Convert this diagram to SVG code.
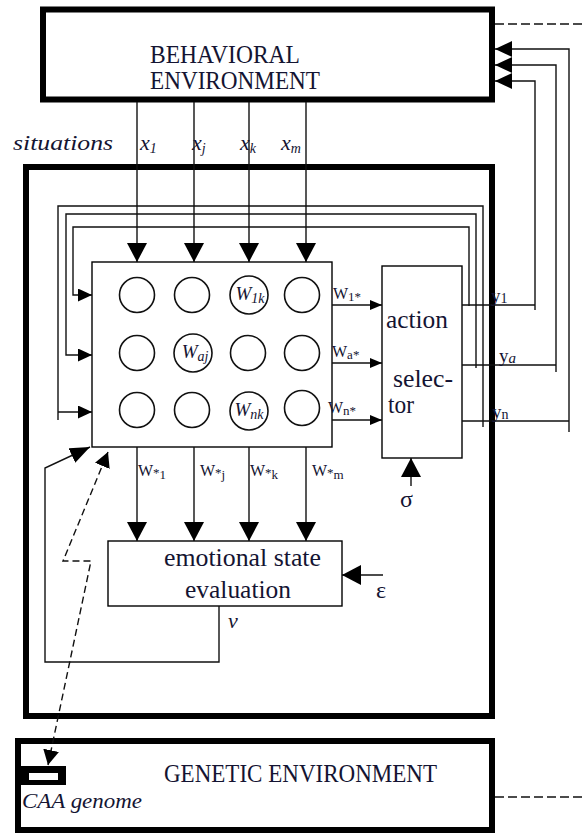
<svg xmlns="http://www.w3.org/2000/svg" width="586" height="837" viewBox="0 0 586 837">
<style>
.box{fill:#fff;stroke:#000;stroke-width:6}
.blk{fill:none;stroke:#000;stroke-width:1.4}
.ln{fill:none;stroke:#111;stroke-width:1.4}
.dash{fill:none;stroke:#111;stroke-width:1.4;stroke-dasharray:9 4}
.dsh2{fill:none;stroke:#111;stroke-width:1.4;stroke-dasharray:7 4}
.cell{fill:#fff;stroke:#111;stroke-width:1.6}
text{font-family:"Liberation Serif","Times New Roman",serif;fill:#141432}
.big{font-size:25px}
.it{font-style:italic}
.lab{font-size:16px}
.sub{font-size:13px}
</style>
<defs>
<marker id="aBig" markerUnits="userSpaceOnUse" markerWidth="19" markerHeight="20" refX="19" refY="10" orient="auto"><path d="M0,0 L19,10 L0,20 z" fill="#000"/></marker>
<marker id="aTop" markerUnits="userSpaceOnUse" markerWidth="17" markerHeight="16" refX="17" refY="8" orient="auto"><path d="M0,0 L17,8 L0,16 z" fill="#000"/></marker>
<marker id="aSm" markerUnits="userSpaceOnUse" markerWidth="14" markerHeight="13" refX="14" refY="6.5" orient="auto"><path d="M0,0 L14,6.5 L0,13 z" fill="#000"/></marker>
<marker id="aXs" markerUnits="userSpaceOnUse" markerWidth="12" markerHeight="10" refX="12" refY="5" orient="auto"><path d="M0,0 L12,5 L0,10 z" fill="#000"/></marker>
<marker id="aNu" markerUnits="userSpaceOnUse" markerWidth="20" markerHeight="16" refX="20" refY="8" orient="auto"><path d="M0,0 L20,8 L0,16 z" fill="#000"/></marker>
<marker id="aDs" markerUnits="userSpaceOnUse" markerWidth="15" markerHeight="16" refX="15" refY="8" orient="auto-start-reverse"><path d="M0,0 L15,8 L0,16 z" fill="#000"/></marker>
</defs>
<rect width="586" height="837" fill="#fff"/>

<g id="agent-box"><rect class="box" x="26" y="167" width="466" height="549"/></g>

<g id="behavioral-environment">
<rect class="box" x="43" y="9.5" width="449" height="90"/>
<text class="big" x="150" y="63" textLength="150" lengthAdjust="spacingAndGlyphs">BEHAVIORAL</text>
<text class="big" x="150" y="89" textLength="170" lengthAdjust="spacingAndGlyphs">ENVIRONMENT</text>
</g>

<g id="genetic-environment">
<rect class="box" x="18" y="741" width="474" height="89"/>
<text class="big" x="164" y="782" textLength="273" lengthAdjust="spacingAndGlyphs">GENETIC ENVIRONMENT</text>
</g>

<g id="caa-genome">
<rect x="20" y="766" width="46" height="19" fill="#000"/>
<rect x="29" y="773" width="29" height="7" fill="#fff"/>
<text class="it" x="22" y="808" font-size="21" textLength="120" lengthAdjust="spacingAndGlyphs">CAA genome</text>
</g>

<g id="weight-matrix">
<rect class="blk" x="92" y="262" width="240" height="185" fill="#fff"/>
<circle class="cell" cx="137" cy="295" r="17.5"/>
<circle class="cell" cx="192" cy="295" r="17.5"/>
<circle class="cell" cx="249" cy="295" r="19"/>
<circle class="cell" cx="302" cy="295" r="17.5"/>
<circle class="cell" cx="137" cy="353" r="17.5"/>
<circle class="cell" cx="193" cy="353" r="19"/>
<circle class="cell" cx="248" cy="353" r="17.5"/>
<circle class="cell" cx="302" cy="353" r="17.5"/>
<circle class="cell" cx="137" cy="410" r="17.5"/>
<circle class="cell" cx="192" cy="410" r="17.5"/>
<circle class="cell" cx="249" cy="411" r="19"/>
<circle class="cell" cx="302" cy="408" r="17.5"/>
<text class="it" x="250" y="300" font-size="19" text-anchor="middle">W<tspan font-size="14" dy="3">1k</tspan></text>
<text class="it" x="195" y="358" font-size="19" text-anchor="middle">W<tspan font-size="14" dy="3">aj</tspan></text>
<text class="it" x="249" y="416" font-size="19" text-anchor="middle">W<tspan font-size="14" dy="3">nk</tspan></text>
</g>

<g id="action-selector">
<rect class="blk" x="382" y="266" width="80" height="192" fill="#fff"/>
<text class="big" x="386" y="328" textLength="62" lengthAdjust="spacingAndGlyphs">action</text>
<text class="big" x="393" y="387" textLength="60" lengthAdjust="spacingAndGlyphs">selec-</text>
<text class="big" x="388" y="413" textLength="26" lengthAdjust="spacingAndGlyphs">tor</text>
</g>

<g id="emotional-state-evaluation">
<rect class="blk" x="108" y="541" width="234" height="65" fill="#fff"/>
<text class="big" x="164" y="566" textLength="157" lengthAdjust="spacingAndGlyphs">emotional state</text>
<text class="big" x="185" y="598" textLength="106" lengthAdjust="spacingAndGlyphs">evaluation</text>
</g>

<g id="connectors">
<!-- situation inputs -->
<path class="ln" d="M137,102 V262" marker-end="url(#aBig)"/>
<path class="ln" d="M194,102 V262" marker-end="url(#aBig)"/>
<path class="ln" d="M249,102 V262" marker-end="url(#aBig)"/>
<path class="ln" d="M306,102 V262" marker-end="url(#aBig)"/>
<!-- matrix to action selector -->
<path class="ln" d="M332,305 H382" marker-end="url(#aXs)"/>
<path class="ln" d="M332,363 H382" marker-end="url(#aXs)"/>
<path class="ln" d="M332,420 H382" marker-end="url(#aXs)"/>
<!-- actions back to environment -->
<path class="ln" d="M462,305 H535 M535,310 V81 H495" marker-end="url(#aTop)"/>
<path class="ln" d="M462,365 H556 M556,372 V65 H495" marker-end="url(#aTop)"/>
<path class="ln" d="M462,421 H569 M569,432 V49 H495" marker-end="url(#aTop)"/>
<!-- feedback loops into matrix -->
<path class="ln" d="M469,306 V227 H73 V295 H92" marker-end="url(#aSm)"/>
<path class="ln" d="M476,368 V214 H66 V355 H92" stroke-width="2" marker-end="url(#aSm)"/>
<path class="ln" d="M483,427 V206 H58 V420 M58,412 H92" marker-end="url(#aSm)"/>
<!-- column outputs to emotional evaluation -->
<path class="ln" d="M137,447 V541" marker-end="url(#aBig)"/>
<path class="ln" d="M194,447 V541" marker-end="url(#aBig)"/>
<path class="ln" d="M249,447 V541" marker-end="url(#aBig)"/>
<path class="ln" d="M306,447 V541" marker-end="url(#aBig)"/>
<!-- sigma, epsilon -->
<path class="ln" d="M411,486 V458" marker-end="url(#aBig)"/>
<path class="ln" d="M383,575 H342" marker-end="url(#aBig)"/>
<!-- nu feedback -->
<path class="ln" d="M219,606 V662 H45 V468 L90,447" marker-end="url(#aNu)"/>
<!-- genome dashed link -->
<path class="dsh2" d="M48,765 L91,561 H63 L108,452" marker-start="url(#aDs)" marker-end="url(#aDs)"/>
<!-- dashed environment links -->
<path class="dash" d="M495,24 H586"/>
<path class="dash" d="M495,797 H586"/>
</g>

<g id="labels">
<text class="it" x="13" y="150" font-size="22" textLength="100" lengthAdjust="spacingAndGlyphs">situations</text>
<text class="it" x="140" y="150" font-size="22">x<tspan font-size="14" dy="3">1</tspan></text>
<text class="it" x="192" y="150" font-size="22">x<tspan font-size="14" dy="3">j</tspan></text>
<text class="it" x="240" y="150" font-size="22">x<tspan font-size="14" dy="3">k</tspan></text>
<text class="it" x="281" y="150" font-size="22">x<tspan font-size="14" dy="3">m</tspan></text>

<text class="lab" x="333" y="299">W<tspan class="sub" dy="2">1*</tspan></text>
<text class="lab" x="332" y="357">W<tspan class="sub" dy="2">a*</tspan></text>
<text class="lab" x="328" y="413">W<tspan class="sub" dy="2">n*</tspan></text>

<text x="491" y="302" font-size="19">y<tspan font-size="14" dy="1">1</tspan></text>
<text x="499" y="362" font-size="19">y<tspan class="it" font-size="15" dy="1">a</tspan></text>
<text x="492" y="418" font-size="19">y<tspan font-size="14" dy="1">n</tspan></text>

<text class="lab" x="138" y="476">W<tspan class="sub" dy="1">*</tspan><tspan class="sub" dy="2">1</tspan></text>
<text class="lab" x="200" y="476">W<tspan class="sub" dy="1">*</tspan><tspan class="sub" dy="2">j</tspan></text>
<text class="lab" x="250" y="476">W<tspan class="sub" dy="1">*</tspan><tspan class="sub" dy="2">k</tspan></text>
<text class="lab" x="312" y="476">W<tspan class="sub" dy="1">*</tspan><tspan class="sub" dy="2">m</tspan></text>

<text x="400" y="507" font-size="24">σ</text>
<text x="376" y="598" font-size="24">ε</text>
<text class="it" x="228" y="628" font-size="22">ν</text>
</g>
</svg>
